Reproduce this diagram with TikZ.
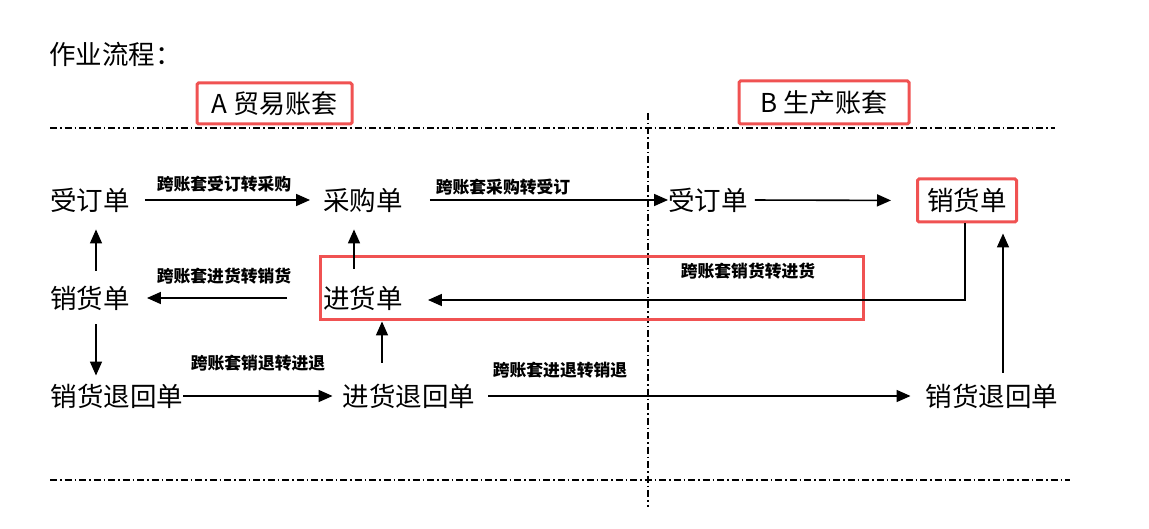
\documentclass[tikz,border=0pt]{standalone}
\usepackage{fontspec}
\setmainfont{Noto Sans CJK SC}
\usetikzlibrary{arrows.meta}
\definecolor{markred}{RGB}{240,82,82}

\begin{document}
\begin{tikzpicture}[
		x=1pt,y=-1pt,
		doc/.style={inner sep=0pt,font=\fontsize{26.5}{26.5}\selectfont},
		lbl/.style={inner sep=0pt,font=\fontsize{16.8}{17}\selectfont\bfseries},
		acct/.style={draw=markred,line width=3pt,rounded corners=1.5pt,inner sep=0pt,font=\fontsize{26}{26}\selectfont},
		arr/.style={line width=1.6pt,-{Triangle[length=14pt,width=12pt]}},
		divider/.style={line width=1.4pt,dash pattern=on 7pt off 3pt on 1.5pt off 3pt}
		]
		\useasboundingbox (0,0) rectangle (1149,529);
		\node[anchor=west,inner sep=0pt,font=\fontsize{26.5}{26.5}\selectfont] (title) at (49,54) {作业流程：};
		\node[acct,minimum width=155pt,minimum height=41pt] (accA) at (274.5,103.5) {A 贸易账套};
		\node[acct,minimum width=170pt,minimum height=43pt] (accB) at (824,102.5) {B 生产账套};
		\draw[divider] (50,128) -- (1055,128);
		\draw[divider] (50,480) -- (1070,480);
		\draw[divider] (648,113) -- (648,507);
		
		\node[doc] (sdA) at (90,200) {受订单};
		\node[doc] (cgA) at (363,200) {采购单};
		\node[doc] (sdB) at (708,200) {受订单};
		\node[doc,draw=markred,line width=3pt,rounded corners=1.5pt,minimum width=99pt,minimum height=43pt] (xhB) at (967,200.5) {销货单};
		\node[doc] (xhA) at (90,298) {销货单};
		\node[doc] (jhA) at (363,298) {进货单};
		\node[doc] (xtA) at (117,396) {销货退回单};
		\node[doc] (jtA) at (409,396) {进货退回单};
		\node[doc] (xtB) at (992,396) {销货退回单};
		\draw[markred,line width=3pt] (320,257) rectangle (863,320);
		
		\node[lbl] (l1) at (224,184) {跨账套受订转采购};
		\node[lbl] (l2) at (503,187) {跨账套采购转受订};
		\node[lbl] (l3) at (224,276) {跨账套进货转销货};
		\node[lbl] (l4) at (748,271) {跨账套销货转进货};
		\node[lbl] (l5) at (258,363) {跨账套销退转进退};
		\node[lbl] (l6) at (560,370) {跨账套进退转销退};
		
		\draw[arr,shorten <=15pt,shorten >=13pt] (sdA.east) -- (cgA.west);
		\draw[arr,shorten <=27pt] (cgA.east) -- (sdB.west);
		\draw[arr,shorten <=7pt,shorten >=25pt] (sdB.east) -- (xhB.west);
		\draw[arr,shorten >=25pt] ([xshift=-2pt]xhB.south) |- ([yshift=-2pt]jhA.east);
		\draw[arr,shorten <=36pt,shorten >=17pt] (jhA.west) -- (xhA.east);
		\draw[arr,shorten <=15pt,shorten >=17pt] ([xshift=6pt]xhA.north) -- ([xshift=6pt]sdA.south);
		\draw[arr,shorten <=14pt,shorten >=8pt] ([xshift=6pt]xhA.south) -- ([xshift=-21pt]xtA.north);
		\draw[arr,shorten <=17pt,shorten >=17pt] ([xshift=-9pt]jhA.north) -- ([xshift=-9pt]cgA.south);
		\draw[arr,shorten <=21pt,shorten >=11pt] ([xshift=-27pt]jtA.north) -- ([xshift=19pt]jhA.south);
		\draw[arr,shorten >=10pt] (xtA.east) -- (jtA.west);
		\draw[arr,shorten <=13pt,shorten >=15pt] (jtA.east) -- (xtB.west);
		\draw[arr,shorten <=11pt,shorten >=10pt] ([xshift=11pt]xtB.north) -- ([xshift=36pt]xhB.south);
\end{tikzpicture}
\end{document}
